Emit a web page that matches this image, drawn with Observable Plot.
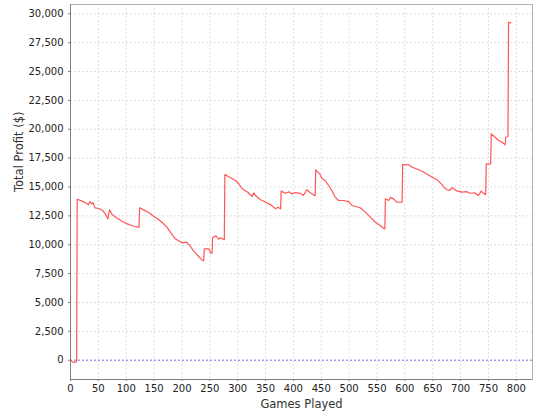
<!DOCTYPE html>
<html>
<head>
<meta charset="utf-8">
<script src="https://cdn.jsdelivr.net/npm/d3@7"></script>
<script src="https://cdn.jsdelivr.net/npm/@observablehq/plot@0.6"></script>
<style>
  html, body { margin: 0; padding: 0; background: #fff; }
  svg { display: block; }
</style>
</head>
<body>
<div id="chart"></div>
<script>
const games = [0, 4, 10, 11, 12, 20, 28, 32, 35, 38, 40, 44, 51, 57, 62, 67, 70, 75, 84, 93, 102, 110, 115, 122, 123,
  124, 131, 140, 149, 158, 165, 173, 179, 188, 200, 208, 214, 221, 230, 237, 239, 240, 248, 252, 254,
  255, 261, 266, 269, 275, 276, 277, 287, 296, 302, 308, 318, 326, 329, 332, 341, 344, 353, 358, 365,
  368, 372, 377, 378, 386, 392, 397, 404, 412, 418, 424, 430, 438, 439, 440, 447, 451, 457, 463, 469,
  475, 481, 490, 499, 505, 520, 529, 538, 547, 556, 563, 564, 565, 571, 574, 580, 586, 594, 595, 596,
  607, 613, 619, 625, 634, 646, 658, 667, 673, 676, 680, 685, 694, 703, 710, 717, 725, 732, 737, 744,
  745, 746, 753, 754, 755, 762, 768, 774, 780, 781, 785, 786, 790];
const profit = [0, -170, -170, -100, 13940, 13800, 13600, 13460, 13740, 13540, 13650, 13200, 13140, 12990, 12700, 12245, 13020, 12590, 12300, 12010, 11810, 11665, 11580, 11520, 11520,
  13200, 13020, 12820, 12470, 12190, 11900, 11520, 11085, 10510, 10165, 10220, 9935, 9440, 8980, 8630, 8630, 9650, 9650, 9270, 9270,
  10600, 10770, 10480, 10600, 10450, 10450, 16080, 15800, 15560, 15280, 14840, 14550, 14180, 14500, 14260, 13890, 13830, 13600, 13500, 13250,
  13110, 13250, 13110, 14640, 14460, 14580, 14400, 14520, 14450, 14260, 14760, 14500, 14260, 14260, 16490, 16140, 15760, 15560, 15130, 14700,
  14120, 13830, 13830, 13740, 13400, 13200, 12820, 12390, 11950, 11665, 11380, 11380, 13980, 13830, 14120, 13950, 13680, 13680, 13680, 16950,
  16920, 16710, 16600, 16490, 16280, 15930, 15620, 15190, 14840, 14760, 14700, 14930, 14640, 14550, 14600, 14460, 14500, 14260, 14640, 14350,
  14350, 17010, 17010, 17010, 19600, 19310, 19030, 18900, 18650, 19310, 19370, 29270, 29220];
const xTicks = d3.range(0, 801, 50);
const yTicks = d3.range(0, 30001, 2500);
const xLabel = "Games Played";
const yLabel = "Total Profit ($)";

const data = games.map((g, i) => ({game: g, profit: profit[i]}));
const xDomain = [0, 829];
const yDomain = [-1671, 30805];

const chart = Plot.plot({
  width: 540,
  height: 420,
  marginLeft: 70,
  marginRight: 8,
  marginTop: 4,
  marginBottom: 41,
  style: {fontFamily: "DejaVu Sans, sans-serif", fontSize: "10px", background: "#fff", color: "#333"},
  x: {domain: xDomain},
  y: {domain: yDomain},
  marks: [
    Plot.gridX(xTicks, {stroke: "#dedede", strokeOpacity: 1, strokeDasharray: "2,2"}),
    Plot.gridY(yTicks, {stroke: "#dedede", strokeOpacity: 1, strokeDasharray: "2,2"}),
    Plot.frame({stroke: "#b4b4b4"}),
    Plot.ruleY([0], {stroke: "#7a7aff", strokeDasharray: "2,2", strokeWidth: 1}),
    Plot.line(data, {x: "game", y: "profit", stroke: "#ff5555", strokeWidth: 1.2}),
    Plot.ruleX([xDomain[0]], {stroke: "#808080"}),
    Plot.ruleY([yDomain[0]], {stroke: "#808080"}),
    Plot.axisX(xTicks, {tickSize: 2, tickPadding: 3, stroke: "#808080", fill: "#222", label: null, fontSize: 10}),
    Plot.axisY(yTicks, {tickSize: 2, tickPadding: 5, stroke: "#808080", fill: "#222", label: null, tickFormat: d3.format(","), fontSize: 10}),
    Plot.text([xLabel], {frameAnchor: "bottom", dy: 28, fontSize: 11.5, fill: "#333"}),
    Plot.text([yLabel], {frameAnchor: "left", dx: -51, rotate: -90, fontSize: 11.5, fill: "#333"})
  ]
});
document.getElementById("chart").appendChild(chart);
</script>
</body>
</html>
